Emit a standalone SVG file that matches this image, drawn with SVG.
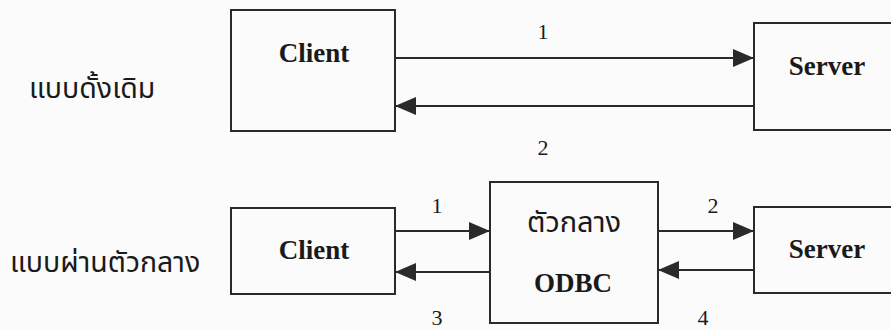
<svg xmlns="http://www.w3.org/2000/svg" width="891" height="330" viewBox="0 0 891 330">
<defs>
<style>
.box{fill:none;stroke:#2a2a2a;stroke-width:2}
.ln{fill:none;stroke:#2a2a2a;stroke-width:2}
.nt{font-family:"Liberation Serif","Times New Roman",serif;font-weight:bold;font-size:27px;fill:#1a1a1a;text-anchor:middle}
.num{font-family:"Liberation Serif","Times New Roman",serif;font-size:22px;fill:#1a1a1a;text-anchor:middle}
.th{font-family:"Noto Sans Thai","Tahoma","Noto Sans",sans-serif;font-size:28.5px;fill:#1a1a1a}
.thb{font-family:"Noto Sans Thai","Tahoma","Noto Sans",sans-serif;font-size:29px;fill:#1a1a1a;text-anchor:middle}
</style>
<marker id="ah" viewBox="0 0 21 18" refX="21" refY="9" markerWidth="21" markerHeight="18" markerUnits="userSpaceOnUse" orient="auto">
<path d="M0,0 L21,9 L0,18 Z" fill="#2a2a2a"/>
</marker>
</defs>
<rect width="891" height="330" fill="#fbfbfb"/>
<text class="th" x="29" y="98">แบบดั้งเดิม</text>
<text class="th" x="10" y="272">แบบผ่านตัวกลาง</text>
<g id="client1">
<rect class="box" x="231" y="10" width="164" height="121"/>
<text class="nt" x="314" y="62">Client</text>
</g>
<g id="server1">
<rect class="box" x="754" y="23" width="150" height="107"/>
<text class="nt" x="827" y="75">Server</text>
</g>
<g id="client2">
<rect class="box" x="231" y="208" width="164" height="86"/>
<text class="nt" x="314" y="259">Client</text>
</g>
<g id="odbc">
<rect class="box" x="490" y="182" width="168" height="141"/>
<text class="thb" x="574" y="232">ตัวกลาง</text>
<text class="nt" x="573" y="292">ODBC</text>
</g>
<g id="server2">
<rect class="box" x="754" y="207" width="150" height="86"/>
<text class="nt" x="827" y="258">Server</text>
</g>
<g id="connectors">
<line class="ln" x1="395" y1="58" x2="754" y2="58" marker-end="url(#ah)"/>
<line class="ln" x1="754" y1="106" x2="395" y2="106" marker-end="url(#ah)"/>
<line class="ln" x1="395" y1="231" x2="490" y2="231" marker-end="url(#ah)"/>
<line class="ln" x1="490" y1="272" x2="395" y2="272" marker-end="url(#ah)"/>
<line class="ln" x1="658" y1="231" x2="754" y2="231" marker-end="url(#ah)"/>
<line class="ln" x1="754" y1="270" x2="658" y2="270" marker-end="url(#ah)"/>
<text class="num" x="543" y="39">1</text>
<text class="num" x="543" y="155">2</text>
<text class="num" x="437" y="213">1</text>
<text class="num" x="437" y="325">3</text>
<text class="num" x="713" y="213">2</text>
<text class="num" x="703" y="325">4</text>
</g>
</svg>
